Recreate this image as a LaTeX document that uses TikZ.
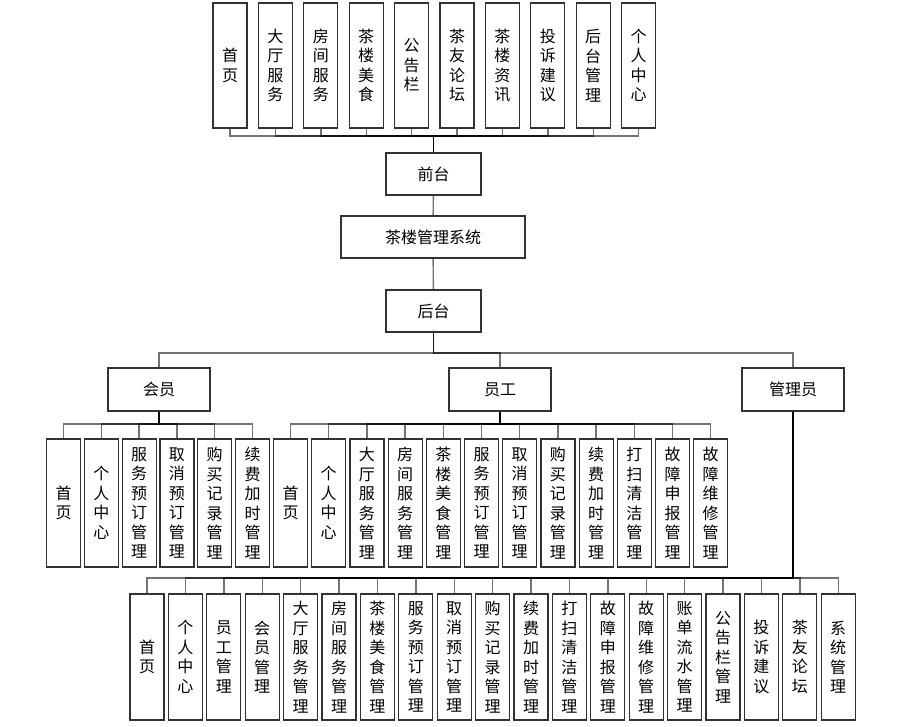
\documentclass[tikz,border=0pt]{standalone}
\usepackage{fontspec}
\setmainfont{Noto Sans CJK SC}
\usepackage{xcolor}
\definecolor{boxLine}{HTML}{333333}

\begin{document}
\begin{tikzpicture}[
  x=1pt, y=-1pt,
  font=\fontsize{16}{19.5}\selectfont,
  every node/.style={align=center},
  box/.style={rectangle, draw=boxLine, line width=1.2pt, fill=white, inner sep=0pt},
  hbox/.style={box, minimum width=95pt, minimum height=42pt},
  rolebox/.style={box, minimum width=102pt, minimum height=43pt},
  vbox/.style={box, minimum width=34pt, minimum height=126pt},
  link/.style={draw=black, draw opacity=0.55, line width=1.4pt},
]
\useasboundingbox (0,0) rectangle (912,726);

% ── Bus levels ─────────────────────────────────────────────────────
\coordinate (barTop)    at (0,136);   % above the front desk
\coordinate (barRole)   at (0,353);   % below the back desk
\coordinate (barMember) at (0,424);
\coordinate (barStaff)  at (0,424);
\coordinate (barAdmin)  at (0,578);

% ── Centre column ──────────────────────────────────────────────────
\node[hbox] (front) at (433.5,174) {前台};
\node[box, minimum width=184pt, minimum height=42pt] (sys) at (433,237) {茶楼管理系统};
\node[hbox] (back) at (433.5,311) {后台};

\draw[link] (front) -- (sys);
\draw[link] (sys) -- (back);

% ── Front desk pages (top row) ─────────────────────────────────────
\foreach \lbl [count=\i from 0] in {首\\页, 大\\厅\\服\\务, 房\\间\\服\\务,
    茶\\楼\\美\\食, 公\\告\\栏, 茶\\友\\论\\坛, 茶\\楼\\资\\讯,
    投\\诉\\建\\议, 后\\台\\管\\理, 个\\人\\中\\心}
  \node[vbox, minimum height=125pt] (top\i) at (230+45.4*\i, 65.5) {\lbl};

\foreach \i in {0,...,9}
  \draw[link] (front.north) -- (front.north |- barTop) -| (top\i.south);

% ── Roles ──────────────────────────────────────────────────────────
\node[rolebox] (member) at (159,389.5) {会员};
\node[rolebox] (staff)  at (500,389.5) {员工};
\node[rolebox] (admin)  at (793,389.5) {管理员};

\foreach \r in {member, staff, admin}
  \draw[link] (back.south) -- (back.south |- barRole) -| (\r.north);

% ── Member modules ─────────────────────────────────────────────────
\foreach \lbl [count=\i from 0] in {首\\页, 个\\人\\中\\心,
    服\\务\\预\\订\\管\\理, 取\\消\\预\\订\\管\\理,
    购\\买\\记\\录\\管\\理, 续\\费\\加\\时\\管\\理}
  \node[vbox, minimum height=128pt] (mem\i) at (63.5+37.8*\i, 503) {\lbl};

\foreach \i in {0,...,5}
  \draw[link] (member.south) -- (member.south |- barMember) -| (mem\i.north);

% ── Staff modules ──────────────────────────────────────────────────
\foreach \lbl [count=\i from 0] in {首\\页, 个\\人\\中\\心,
    大\\厅\\服\\务\\管\\理, 房\\间\\服\\务\\管\\理,
    茶\\楼\\美\\食\\管\\理, 服\\务\\预\\订\\管\\理,
    取\\消\\预\\订\\管\\理, 购\\买\\记\\录\\管\\理,
    续\\费\\加\\时\\管\\理, 打\\扫\\清\\洁\\管\\理,
    故\\障\\申\\报\\管\\理, 故\\障\\维\\修\\管\\理}
  \node[vbox, minimum height=128pt] (emp\i) at (290.5+38.2*\i, 503) {\lbl};

\foreach \i in {0,...,11}
  \draw[link] (staff.south) -- (staff.south |- barStaff) -| (emp\i.north);

% ── Admin modules (bottom row) ─────────────────────────────────────
\foreach \lbl [count=\i from 0] in {首\\页, 个\\人\\中\\心,
    员\\工\\管\\理, 会\\员\\管\\理,
    大\\厅\\服\\务\\管\\理, 房\\间\\服\\务\\管\\理,
    茶\\楼\\美\\食\\管\\理, 服\\务\\预\\订\\管\\理,
    取\\消\\预\\订\\管\\理, 购\\买\\记\\录\\管\\理,
    续\\费\\加\\时\\管\\理, 打\\扫\\清\\洁\\管\\理,
    故\\障\\申\\报\\管\\理, 故\\障\\维\\修\\管\\理,
    账\\单\\流\\水\\管\\理, 公\\告\\栏\\管\\理,
    投\\诉\\建\\议, 茶\\友\\论\\坛, 系\\统\\管\\理}
  \node[vbox] (adm\i) at (147+38.4*\i, 657) {\lbl};

\foreach \i in {0,...,18}
  \draw[link] (admin.south) -- (admin.south |- barAdmin) -| (adm\i.north);

\end{tikzpicture}
\end{document}
